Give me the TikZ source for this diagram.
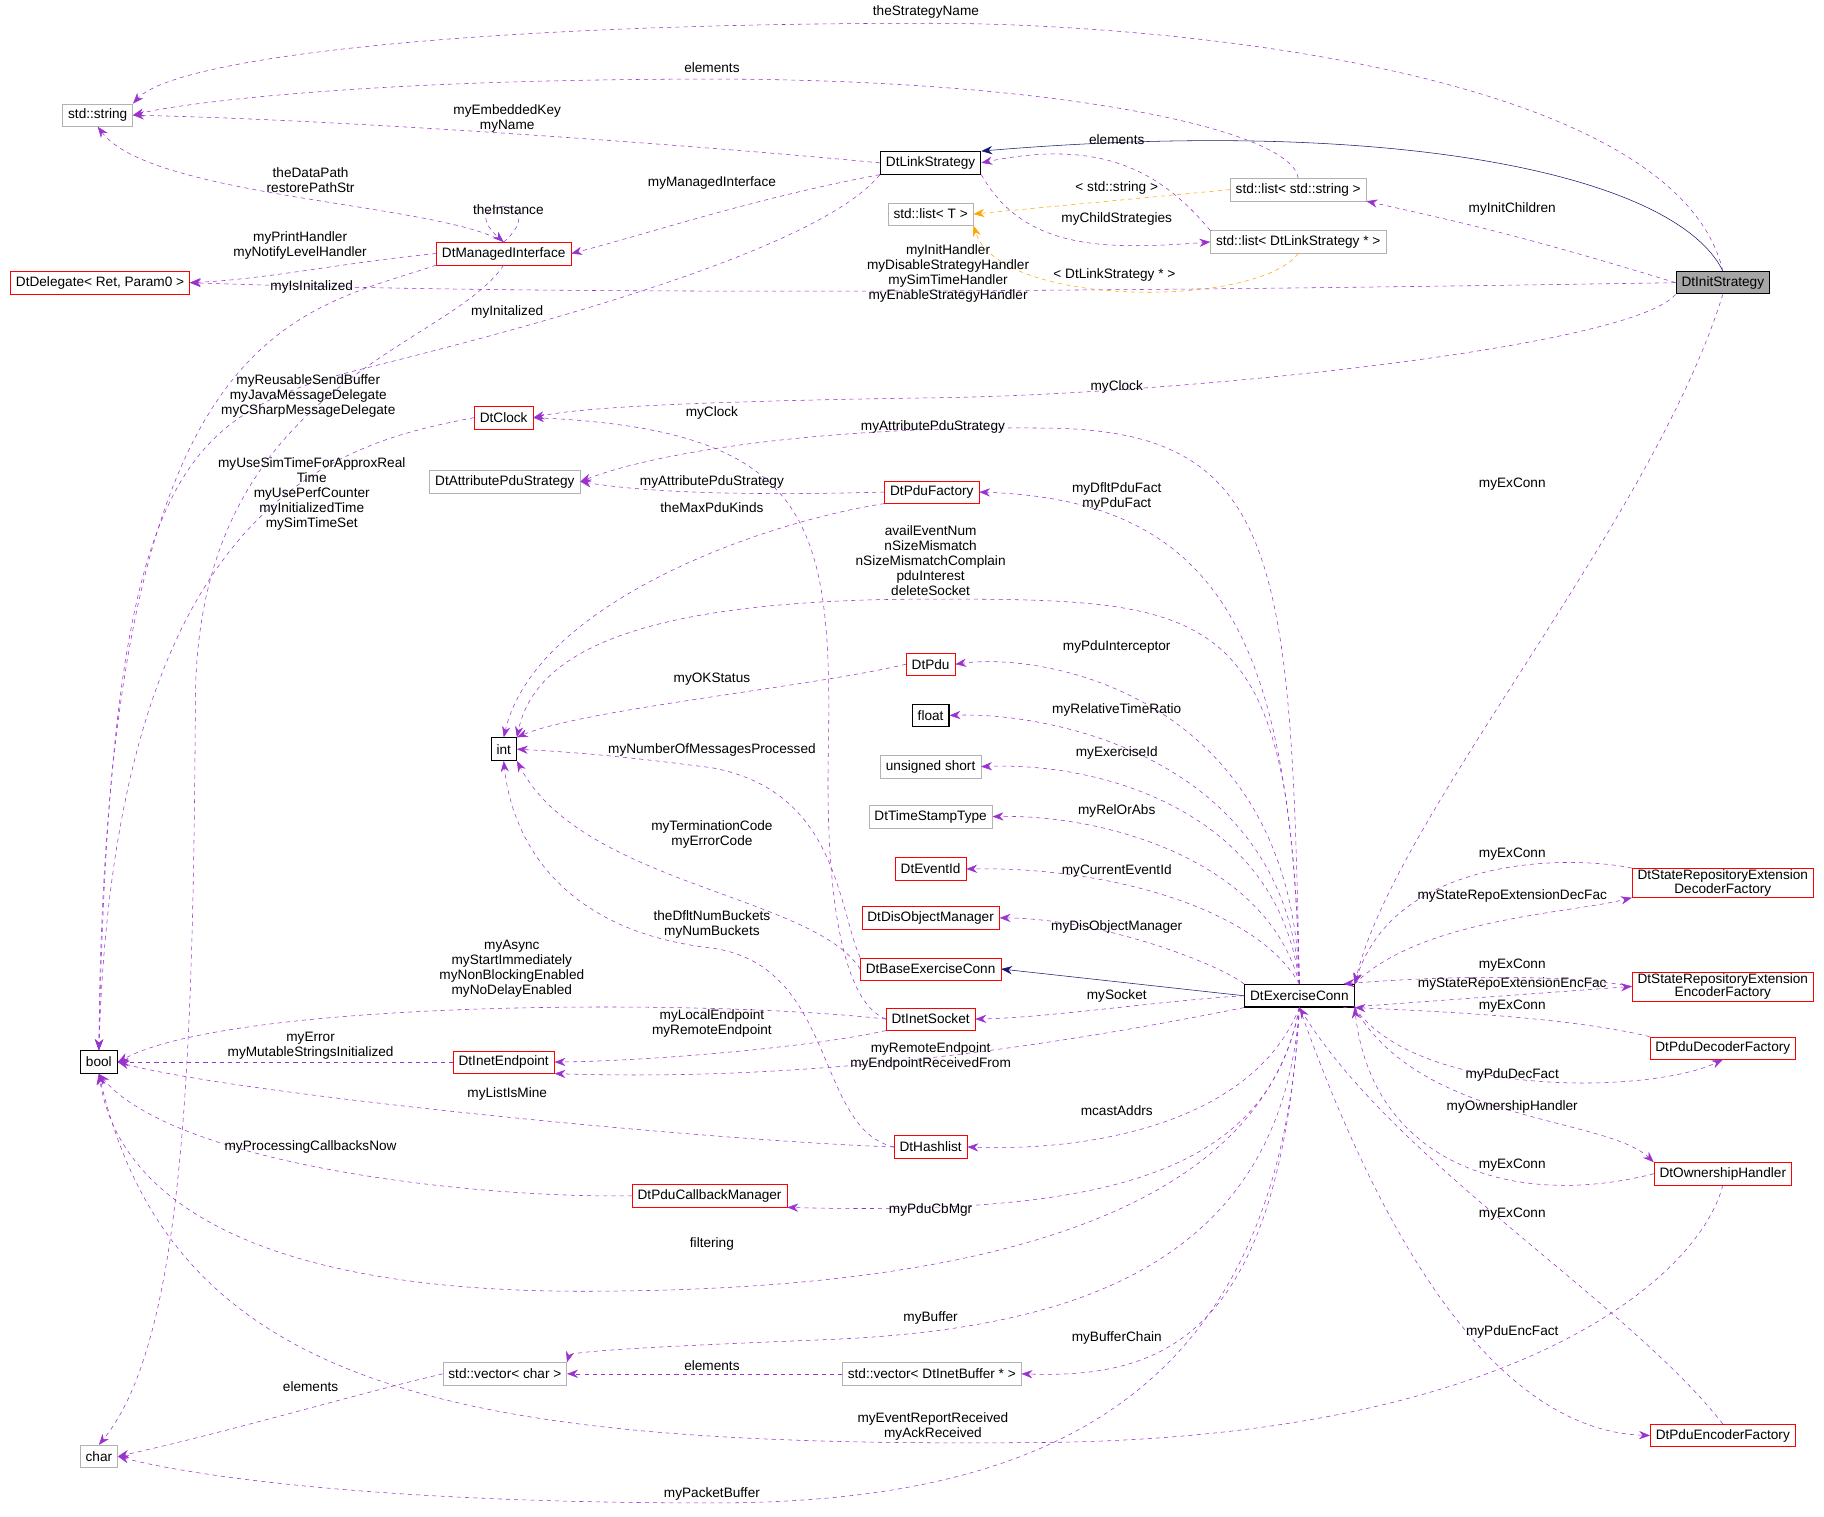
\documentclass[tikz,border=0pt]{standalone}
\usepackage{fontspec}
\setmainfont{Liberation Sans}
\usetikzlibrary{arrows.meta,positioning}
\definecolor{memcol}{HTML}{9A32CD}
\definecolor{tplcol}{HTML}{FFA500}
\definecolor{inhcol}{HTML}{191970}
\tikzset{
  cls/.style={draw, font=\fontsize{10}{11}\selectfont, minimum height=0.58cm, inner xsep=4pt, inner ysep=1pt, align=center},
  redcls/.style={cls, draw=red},
  graycls/.style={cls, draw=black!30},
  blkcls/.style={cls, draw=black, thick},
  lbl/.style={font=\fontsize{10}{11}\selectfont, align=center, inner sep=1pt},
  mem/.style={draw=memcol, dashed, -{Stealth[length=8pt,width=6pt]}},
  tpl/.style={draw=tplcol, dashed, -{Stealth[length=8pt,width=6pt]}},
  inh/.style={draw=inhcol, -{Stealth[length=8pt,width=6pt]}}
}
\begin{document}
\begin{tikzpicture}[x=0.03cm,y=-0.03cm]
\useasboundingbox (0,0) rectangle (1568,1304);
% classes
  \node[graycls] (str) at (84,99) {std::string};
  \node[redcls] (dl) at (86,243) {DtDelegate< Ret, Param0 >};
  \node[blkcls] (bool) at (85,913) {bool};
  \node[graycls] (chr) at (85,1252) {char};
  \node[blkcls] (link) at (800,140) {DtLinkStrategy};
  \node[redcls] (mi) at (433,218) {DtManagedInterface};
  \node[redcls] (clk) at (433,359) {DtClock};
  \node[graycls] (attr) at (434,414) {DtAttributePduStrategy};
  \node[redcls] (pf) at (801,423) {DtPduFactory};
  \node[blkcls] (int) at (433,644) {int};
  \node[redcls] (pdu) at (800,571) {DtPdu};
  \node[blkcls] (flt) at (800,615) {float};
  \node[graycls] (ush) at (800,659) {unsigned short};
  \node[graycls] (tst) at (800,702) {DtTimeStampType};
  \node[redcls] (eid) at (800,747) {DtEventId};
  \node[redcls] (dom) at (800,789) {DtDisObjectManager};
  \node[redcls] (bec) at (800,833) {DtBaseExerciseConn};
  \node[redcls] (sock) at (800,876) {DtInetSocket};
  \node[redcls] (ep) at (433,913) {DtInetEndpoint};
  \node[redcls] (hash) at (800,986) {DtHashlist};
  \node[redcls] (cbm) at (610,1028) {DtPduCallbackManager};
  \node[graycls] (vchr) at (434,1181) {std::vector< char >};
  \node[graycls] (vbuf) at (801,1181) {std::vector< DtInetBuffer * >};
  \node[graycls] (lt) at (800,184) {std::list< T >};
  \node[graycls] (lstr) at (1116,163) {std::list< std::string >};
  \node[graycls] (ldt) at (1116,208) {std::list< DtLinkStrategy * >};
  \node[blkcls, fill=black!35] (init) at (1481,243) {DtInitStrategy};
  \node[blkcls] (ex) at (1117,856) {DtExerciseConn};
  \node[redcls, font=\fontsize{10}{10}\selectfont] (sdec) at (1481,759) {DtStateRepositoryExtension\\DecoderFactory};
  \node[redcls, font=\fontsize{10}{10}\selectfont] (senc) at (1481,848) {DtStateRepositoryExtension\\EncoderFactory};
  \node[redcls] (pdec) at (1481,901) {DtPduDecoderFactory};
  \node[redcls] (own) at (1481,1009) {DtOwnershipHandler};
  \node[redcls] (penc) at (1481,1234) {DtPduEncoderFactory};
% inheritance and templates
  \draw[inh] (init.north) .. controls (1440,150) and (1200,100) .. (link.north east);
  \draw[inh] (ex.west) -- (bec.east);
  \draw[tpl] (lstr.west) -- (lt.east);
  \draw[tpl] (ldt.south) .. controls (1080,265) and (860,265) .. (lt.south east);
  \node[lbl] (l49) at (960,162) {< std::string >};
  \node[lbl] (l50) at (958,236) {< DtLinkStrategy * >};
% top members
  \draw[mem] (init.north) .. controls (1440,60) and (1000,20) .. (800,20) .. controls (400,20) and (150,50) .. (str.north east);
  \node[lbl] (l1) at (796,10) {theStrategyName};
  \draw[mem] (lstr.north) .. controls (1110,110) and (900,68) .. (612,68) .. controls (300,68) and (150,90) .. (str.east);
  \node[lbl] (l2) at (612,58) {elements};
  \draw[mem] (link.west) .. controls (600,125) and (300,103) .. (str.east);
  \node[lbl] (l3) at (436,102) {myEmbeddedKey\\myName};
  \draw[mem] (mi.north) .. controls (380,175) and (130,170) .. (str.south);
  \node[lbl] (l4) at (267,155) {theDataPath\\restorePathStr};
  \draw[mem] (mi.north) .. controls +(45,-40) and +(-45,-40) .. (mi.north);
  \node[lbl] (l5) at (437,180) {theInstance};
  \draw[mem] (link.south west) .. controls (650,170) and (560,200) .. (mi.east);
  \node[lbl] (l6) at (612,157) {myManagedInterface};
  \draw[mem] (mi.west) .. controls (300,225) and (230,240) .. (dl.east);
  \node[lbl] (l7) at (258,211) {myPrintHandler\\myNotifyLevelHandler};
  \draw[mem] (init.west) .. controls (1000,250) and (500,255) .. (dl.east);
  \node[lbl] (l8) at (815,235) {myInitHandler\\myDisableStrategyHandler\\mySimTimeHandler\\myEnableStrategyHandler};
  \draw[mem] (mi.south west) .. controls (250,270) and (90,280) .. (bool.north);
  \node[lbl] (l9) at (268,247) {myIsInitalized};
  \draw[mem] (link.south west) .. controls (700,220) and (420,290) .. (300,320) .. controls (150,360) and (95,420) .. (bool.north);
  \node[lbl] (l10) at (436,268) {myInitalized};
  \draw[mem] (mi.south) .. controls (385,300) and (170,330) .. (168,600) .. controls (166,900) and (160,1150) .. (chr.north);
  \node[lbl] (l11) at (265,340) {myReusableSendBuffer\\myJavaMessageDelegate\\myCSharpMessageDelegate};
  \draw[mem] (clk.west) .. controls (300,380) and (100,420) .. (bool.north);
  \node[lbl] (l12) at (268,425) {myUseSimTimeForApproxReal\\Time\\myUsePerfCounter\\myInitializedTime\\mySimTimeSet};
  \draw[mem] (init.south west) .. controls (1400,300) and (1000,340) .. (800,342) .. controls (600,345) and (500,350) .. (clk.east);
  \node[lbl] (l13) at (960,333) {myClock};
  \draw[mem] (sock.west) .. controls (720,860) and (710,750) .. (712,650) .. controls (716,450) and (700,370) .. (clk.east);
  \node[lbl] (l14) at (612,355) {myClock};
  \draw[mem] (init.west) .. controls (1300,200) and (1250,190) .. (lstr.south east);
  \node[lbl] (l15) at (1300,180) {myInitChildren};
  \draw[mem] (link.south east) .. controls (880,215) and (950,215) .. (ldt.west);
  \node[lbl] (l16) at (960,188) {myChildStrategies};
  \draw[mem] (ldt.north west) .. controls (1000,150) and (950,118) .. (link.east);
  \node[lbl] (l17) at (960,120) {elements};
% middle members
  \draw[mem] (ex.north) .. controls (1110,480) and (1100,370) .. (900,368) .. controls (700,366) and (560,390) .. (attr.east);
  \node[lbl] (l18) at (802,367) {myAttributePduStrategy};
  \draw[mem] (pf.west) .. controls (650,426) and (560,424) .. (attr.east);
  \node[lbl] (l19) at (612,414) {myAttributePduStrategy};
  \draw[mem] (pf.south west) .. controls (650,450) and (460,520) .. (int.north);
  \node[lbl] (l20) at (612,436) {theMaxPduKinds};
  \draw[mem] (ex.north) .. controls (1110,550) and (1050,430) .. (pf.east);
  \node[lbl] (l21) at (960,427) {myDfltPduFact\\myPduFact};
  \draw[mem] (ex.north) .. controls (1110,520) and (1050,515) .. (800,515) .. controls (550,515) and (460,560) .. (int.north east);
  \node[lbl] (l22) at (800,482) {availEventNum\\nSizeMismatch\\nSizeMismatchComplain\\pduInterest\\deleteSocket};
  \draw[mem] (pdu.west) .. controls (700,590) and (500,610) .. (int.north east);
  \node[lbl] (l23) at (612,584) {myOKStatus};
  \draw[mem] (bec.north west) .. controls (720,780) and (720,680) .. (612,660) .. controls (520,648) and (480,646) .. (int.east);
  \node[lbl] (l24) at (612,645) {myNumberOfMessagesProcessed};
  \draw[mem] (bec.west) .. controls (700,770) and (500,760) .. (int.south east);
  \node[lbl] (l25) at (612,717) {myTerminationCode\\myErrorCode};
  \draw[mem] (hash.west) .. controls (700,970) and (720,830) .. (612,815) .. controls (480,800) and (440,720) .. (int.south);
  \node[lbl] (l26) at (612,795) {theDfltNumBuckets\\myNumBuckets};
  \draw[mem] (ex.north) .. controls (1110,600) and (900,560) .. (pdu.east);
  \node[lbl] (l27) at (960,556) {myPduInterceptor};
  \draw[mem] (ex.north) .. controls (1105,650) and (900,612) .. (flt.east);
  \node[lbl] (l28) at (960,610) {myRelativeTimeRatio};
  \draw[mem] (ex.north) .. controls (1100,700) and (950,655) .. (ush.east);
  \node[lbl] (l29) at (960,647) {myExerciseId};
  \draw[mem] (ex.north) .. controls (1090,740) and (950,700) .. (tst.east);
  \node[lbl] (l30) at (960,697) {myRelOrAbs};
  \draw[mem] (ex.north) .. controls (1080,780) and (950,745) .. (eid.east);
  \node[lbl] (l31) at (960,749) {myCurrentEventId};
  \draw[mem] (ex.north west) .. controls (1050,830) and (950,790) .. (dom.east);
  \node[lbl] (l32) at (960,797) {myDisObjectManager};
  \draw[mem] (ex.west) .. controls (1000,860) and (900,875) .. (sock.east);
  \node[lbl] (l33) at (960,856) {mySocket};
  \draw[mem] (sock.west) .. controls (600,858) and (200,860) .. (bool.east);
  \node[lbl] (l34) at (440,833) {myAsync\\myStartImmediately\\myNonBlockingEnabled\\myNoDelayEnabled};
  \draw[mem] (sock.south west) .. controls (700,900) and (560,912) .. (ep.east);
  \node[lbl] (l35) at (612,880) {myLocalEndpoint\\myRemoteEndpoint};
  \draw[mem] (ex.south west) .. controls (900,900) and (700,930) .. (ep.south east);
  \node[lbl] (l36) at (800,908) {myRemoteEndpoint\\myEndpointReceivedFrom};
  \draw[mem] (ep.west) -- (bool.east);
  \node[lbl] (l37) at (267,899) {myError\\myMutableStringsInitialized};
  \draw[mem] (hash.west) .. controls (600,980) and (200,940) .. (bool.east);
  \node[lbl] (l38) at (436,940) {myListIsMine};
  \draw[mem] (ex.south) .. controls (1080,960) and (950,990) .. (hash.east);
  \node[lbl] (l39) at (960,955) {mcastAddrs};
  \draw[mem] (cbm.west) .. controls (400,1030) and (150,1000) .. (bool.south);
  \node[lbl] (l40) at (267,986) {myProcessingCallbacksNow};
  \draw[mem] (ex.south) .. controls (1090,1010) and (950,1045) .. (cbm.south east);
  \node[lbl] (l41) at (800,1040) {myPduCbMgr};
  \draw[mem] (ex.south) .. controls (1080,1060) and (800,1110) .. (500,1110) .. controls (200,1110) and (100,1020) .. (bool.south);
  \node[lbl] (l42) at (612,1069) {filtering};
% bottom members
  \draw[mem] (ex.south) .. controls (1100,1100) and (900,1145) .. (700,1152) .. controls (550,1158) and (490,1162) .. (vchr.north east);
  \node[lbl] (l43) at (800,1133) {myBuffer};
  \draw[mem] (ex.south) .. controls (1100,1150) and (1000,1185) .. (vbuf.east);
  \node[lbl] (l44) at (960,1150) {myBufferChain};
  \draw[mem] (vbuf.west) -- (vchr.east);
  \node[lbl] (l45) at (612,1174) {elements};
  \draw[mem] (vchr.west) .. controls (300,1200) and (200,1230) .. (chr.east);
  \node[lbl] (l46) at (267,1192) {elements};
  \draw[mem] (own.south) .. controls (1460,1100) and (1300,1235) .. (900,1240) .. controls (400,1245) and (150,1200) .. (bool.south);
  \node[lbl] (l47) at (802,1226) {myEventReportReceived\\myAckReceived};
  \draw[mem] (ex.south) .. controls (1100,1200) and (900,1292) .. (612,1292) .. controls (300,1292) and (150,1265) .. (chr.east);
  \node[lbl] (l48) at (612,1284) {myPacketBuffer};
% right members
  \draw[mem] (init.south) .. controls (1420,450) and (1200,700) .. (ex.north east);
  \node[lbl] (l51) at (1300,416) {myExConn};
  \draw[mem] (sdec.north west) .. controls (1350,735) and (1200,735) .. (ex.north east);
  \node[lbl] (l52) at (1300,734) {myExConn};
  \draw[mem] (ex.north east) .. controls (1220,790) and (1350,785) .. (sdec.south west);
  \node[lbl] (l53) at (1300,770) {myStateRepoExtensionDecFac};
  \draw[mem] (senc.west) .. controls (1350,838) and (1250,838) .. (ex.15);
  \node[lbl] (l54) at (1300,830) {myExConn};
  \draw[mem] (ex.-15) -- (senc.west);
  \node[lbl] (l55) at (1300,846) {myStateRepoExtensionEncFac};
  \draw[mem] (pdec.north west) .. controls (1350,875) and (1250,870) .. (ex.south east);
  \node[lbl] (l56) at (1300,865) {myExConn};
  \draw[mem] (ex.south east) .. controls (1220,945) and (1420,940) .. (pdec.south);
  \node[lbl] (l57) at (1300,924) {myPduDecFact};
  \draw[mem] (ex.south east) .. controls (1220,965) and (1380,960) .. (own.north west);
  \node[lbl] (l58) at (1300,952) {myOwnershipHandler};
  \draw[mem] (own.west) .. controls (1300,1040) and (1180,1000) .. (ex.south east);
  \node[lbl] (l59) at (1300,1002) {myExConn};
  \draw[mem] (penc.north) .. controls (1400,1120) and (1200,1000) .. (ex.south);
  \node[lbl] (l60) at (1300,1044) {myExConn};
  \draw[mem] (ex.south) .. controls (1200,1100) and (1300,1230) .. (penc.west);
  \node[lbl] (l61) at (1300,1145) {myPduEncFact};
\end{tikzpicture}
\end{document}
